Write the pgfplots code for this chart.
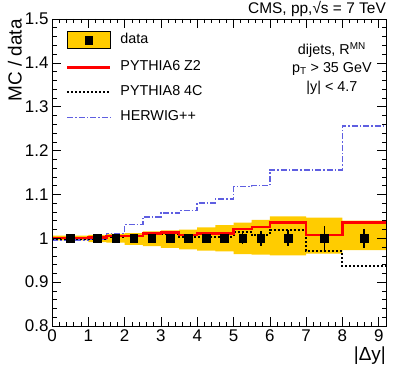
\documentclass[border=0pt]{standalone}
\usepackage{fontspec}
\setmainfont{Liberation Sans}
\usepackage{pgfplots}
\pgfplotsset{compat=1.18}
\usepgfplotslibrary{fillbetween}

\definecolor{bandyellow}{RGB}{255,204,0}
\definecolor{hwblue}{RGB}{95,95,225}

\begin{document}
\begin{tikzpicture}
\begin{axis}[
    scale only axis,
    width=334bp, height=307bp,
    xmin=0, xmax=9.2, ymin=0.8, ymax=1.5,
    xtick={0,1,2,3,4,5,6,7,8,9},
    ytick={0.8,0.9,1.0,1.1,1.2,1.3,1.4,1.5},
    yticklabels={0.8,0.9,1,1.1,1.2,1.3,1.4,1.5},
    minor x tick num=4, minor y tick num=4,
    tick align=inside,
    major tick length=9bp, minor tick length=4.5bp,
    tick style={black, line width=0.6pt},
    axis line style={line width=0.8pt},
    axis on top=true,
    /pgf/number format/assume math mode=true,
    tick label style={font=\fontsize{17}{17}\selectfont},
    xlabel={|Δy|},
    xlabel style={at={(axis description cs:1,-0.068)}, anchor=north east,
        inner sep=0pt, font=\fontsize{19}{19}\selectfont},
    ylabel={MC / data},
    ylabel style={at={(axis description cs:-0.09,1)}, anchor=south east,
        inner sep=0pt, font=\fontsize{19}{19}\selectfont},
    legend style={at={(axis description cs:0.042,0.96)}, anchor=north west,
        draw=none, fill=none, font=\fontsize{14.4}{14.4}\selectfont,
        row sep=12bp, inner sep=0pt,
        nodes={inner sep=0pt, text height=10bp, text depth=3bp}},
    legend cell align=left,
    /tikz/every odd column/.append style={column sep=9bp},
    clip=false,
]
\coordinate (bl) at (rel axis cs:0,0);
\coordinate (tr) at (rel axis cs:1,1);

% systematic band (bin lower edges, last point repeats)
\addplot[name path=up, draw=none, const plot mark left, forget plot] coordinates {
    (0,1.006) (1,1.008) (1.5,1.010) (2,1.012) (2.5,1.016) (3,1.018) (3.5,1.020)
    (4,1.025) (4.5,1.030) (5,1.036) (5.5,1.042) (6,1.050) (7,1.047) (8,1.040) (9.2,1.040)};
\addplot[name path=lo, draw=none, const plot mark left, forget plot] coordinates {
    (0,0.995) (1,0.991) (1.5,0.990) (2,0.985) (2.5,0.982) (3,0.978) (3.5,0.975)
    (4,0.972) (4.5,0.970) (5,0.964) (5.5,0.963) (6,0.961) (7,0.965) (8,0.973) (9.2,0.973)};
\addplot[bandyellow, forget plot] fill between[of=up and lo];

% HERWIG++
\addplot[hwblue, line width=1.6bp, dash pattern=on 6bp off 2bp on 1.5bp off 2bp,
    const plot mark left, forget plot] coordinates {
    (0,0.996) (1,0.997) (1.5,1.011) (2,1.031) (2.5,1.049) (3,1.057) (3.5,1.063)
    (4,1.081) (4.5,1.089) (5,1.118) (5.5,1.120) (6,1.156) (7,1.156) (8,1.256) (9.2,1.256)};

% PYTHIA8 4C
\addplot[black, line width=2bp, dash pattern=on 2bp off 2bp,
    const plot mark left, forget plot] coordinates {
    (0,0.998) (1,0.999) (1.5,1.002) (2,1.005) (2.5,1.012) (3,1.010) (3.5,1.004)
    (4,1.004) (4.5,1.004) (5,1.015) (5.5,1.008) (6,1.019) (7,0.970) (8,0.936) (9.2,0.936)};

% PYTHIA6 Z2
\addplot[red, line width=2.2bp, const plot mark left, forget plot] coordinates {
    (0,1.000) (1,1.002) (1.5,1.005) (2,1.006) (2.5,1.011) (3,1.013) (3.5,1.007)
    (4,1.011) (4.5,1.011) (5,1.021) (5.5,1.025) (6,1.036) (7,1.008) (8,1.036) (9.2,1.036)};

% data
\addplot[black, only marks, mark=square*, mark size=3.8bp, forget plot,
    error bars/.cd, y dir=both, y explicit, error mark=none,
    error bar style={line width=1.5bp}] coordinates {
    (0.5,1) +- (0,0.003) (1.25,1) +- (0,0.003) (1.75,1) +- (0,0.003)
    (2.25,1) +- (0,0.004) (2.75,1) +- (0,0.004) (3.25,1) +- (0,0.005)
    (3.75,1) +- (0,0.006) (4.25,1) +- (0,0.007) (4.75,1) +- (0,0.010)
    (5.25,1) +- (0,0.014) (5.75,1) +- (0,0.017) (6.5,1) +- (0,0.018)
    (7.5,1) +- (0,0.029) (8.6,1) +- (0,0.021)};

\addlegendimage{legend image code/.code={
    \draw[fill=bandyellow, draw=black, line width=0.5pt] (0bp,-8.5bp) rectangle (43bp,8.5bp);
    \fill[black] (21.5bp,0bp) +(-3.8bp,-3.8bp) rectangle +(3.8bp,3.8bp);}}
\addlegendentry{data}
\addlegendimage{legend image code/.code={
    \draw[red, line width=2.2bp] (0bp,0bp) -- (43bp,0bp);}}
\addlegendentry{PYTHIA6 Z2}
\addlegendimage{legend image code/.code={
    \draw[black, line width=2bp, dash pattern=on 2bp off 2bp] (0bp,0bp) -- (43bp,0bp);}}
\addlegendentry{PYTHIA8 4C}
\addlegendimage{legend image code/.code={
    \draw[hwblue, line width=1.6bp, dash pattern=on 6bp off 2bp on 1.5bp off 2bp] (0bp,0bp) -- (43bp,0bp);}}
\addlegendentry{HERWIG++}

\node[anchor=south east, inner sep=0pt, font=\fontsize{15.5}{15.5}\selectfont]
    at (axis description cs:1,1.008) {CMS, pp,√s = 7 TeV};
\node[anchor=north, align=center, inner sep=0pt, font=\fontsize{14.4}{18.5}\selectfont]
    at (axis description cs:0.838,0.925)
    {dijets, R\textsuperscript{MN}\\p\textsubscript{T} > 35 GeV\\|y| < 4.7};
\end{axis}
\pgfresetboundingbox
\path (bl) ++(-52bp,-52bp) (tr) ++(21bp,19bp);
\end{tikzpicture}
\end{document}
